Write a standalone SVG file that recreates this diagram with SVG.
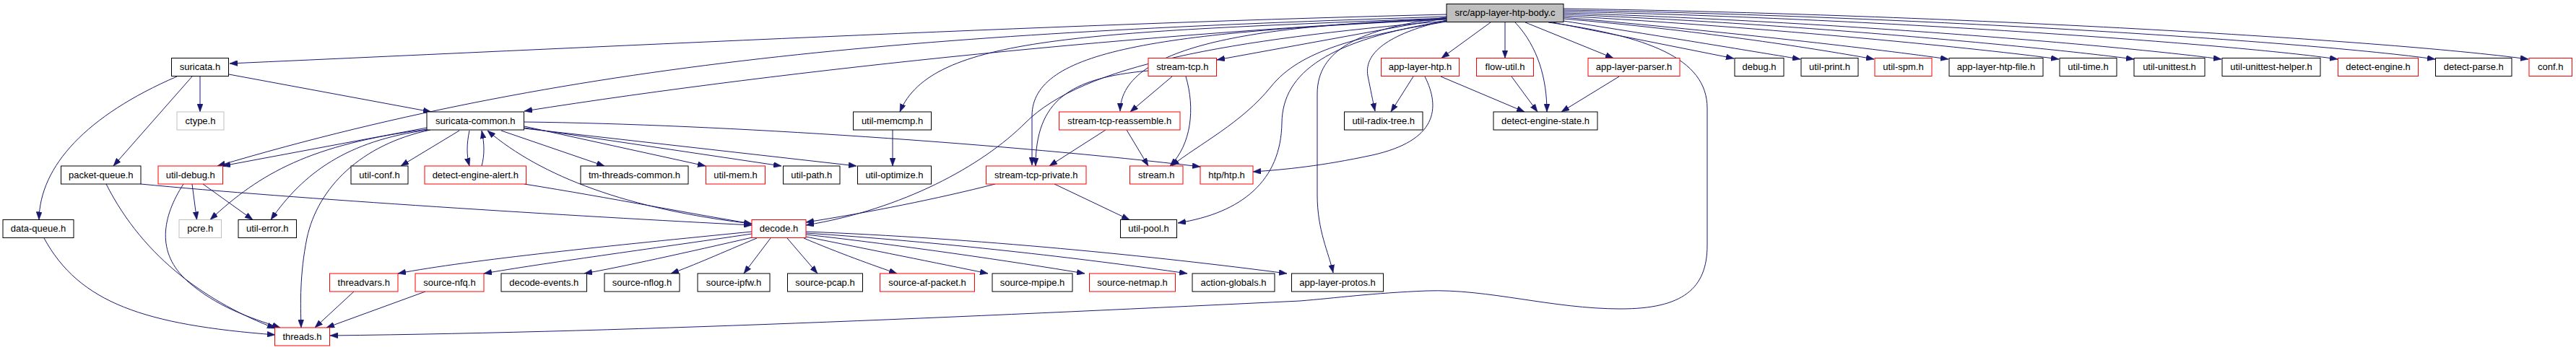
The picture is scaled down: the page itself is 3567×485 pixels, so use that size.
<svg xmlns="http://www.w3.org/2000/svg" width="3567" height="485" viewBox="0 0 3567 485">
<style>
rect{fill:#fff;stroke:#000;stroke-width:1}
.r rect{stroke:#ff0000}
.g rect{stroke:#bfbfbf}
.s rect{fill:#bfbfbf}
text{font-family:"Liberation Sans",Arial,sans-serif;font-size:13px;fill:#000;text-anchor:middle}
#edges path{fill:none;stroke:#191970;stroke-width:1;marker-end:url(#ah)}
</style>
<defs>
<marker id="ah" markerWidth="11" markerHeight="8" refX="11" refY="4" orient="auto" markerUnits="userSpaceOnUse" viewBox="0 0 11 8"><path d="M0,0L11,4L0,8z" fill="#191970" stroke="#191970" stroke-width="0.5"/></marker>
</defs>
<rect x="0" y="0" width="3567" height="485" style="stroke:none"/>
<g id="edges">
<path d="M2003,20 C1500,32 900,62 318,88"/>
<path d="M2003,26 C1600,45 1100,95 726,154"/>
<path d="M2003,23 C1303,45 805,80 301,230"/>
<path d="M2003,25 C1500,45 1290,50 1246,155"/>
<path d="M2003,27 C1600,45 1430,70 1429,160 L1429,229"/>
<path d="M2003,26 C1750,35 1553,60 1551,154"/>
<path d="M2003,25 L1685,83"/>
<path d="M2003,30 C1880,50 1800,70 1760,120 C1720,170 1660,200 1622,230"/>
<path d="M2003,29 C1700,55 1500,90 1420,170 C1360,230 1250,290 1116,312"/>
<path d="M2003,29 C1840,55 1776,100 1775,170 C1774,250 1720,295 1631,309"/>
<path d="M2003,24 C1880,40 1824,70 1824,130 L1824,270 C1824,320 1840,350 1846,378"/>
<path d="M2003,28 C1930,45 1888,70 1894,105 C1898,125 1901,140 1904,154"/>
<path d="M2064,31 L1996,80.5"/>
<path d="M2084,31 L2084,80.5"/>
<path d="M2098,31 C2130,65 2142,110 2142,155"/>
<path d="M2112,31 L2234,80.5"/>
<path d="M2144,31 C2280,50 2364,80 2364,150 L2364,340 C2364,400 2330,428 2244,428 C2150,428 2060,400 1976,403 C1900,406 1850,413 1800,417 C1400,436 900,460 457,465"/>
<path d="M2150,31 L2401,81"/>
<path d="M2165,29 C2300,50 2420,70 2493,82"/>
<path d="M2165,26 C2350,42 2500,65 2595,82"/>
<path d="M2165,24 C2400,45 2600,68 2698,82"/>
<path d="M2165,22 C2450,38 2750,68 2851,82"/>
<path d="M2165,20 C2500,33 2850,68 2955,82"/>
<path d="M2165,18 C2550,30 2950,65 3076,82"/>
<path d="M2165,16 C2600,25 3100,62 3237,82"/>
<path d="M2165,14 C2650,22 3200,58 3372,82"/>
<path d="M2165,12 C2700,20 3300,55 3501,82"/>
<path d="M1957,106 L1926,155"/>
<path d="M1995,106 L2111,155"/>
<path d="M1973,106 C1995,150 1990,195 1900,215 C1830,230 1780,235 1735,238"/>
<path d="M2093,106 L2129,155"/>
<path d="M2242,106 L2162,155"/>
<path d="M277,106 L277,155"/>
<path d="M266,106 L157,230"/>
<path d="M245,106 C120,160 55,230 54,304.5"/>
<path d="M317,103 L597,155"/>
<path d="M147,255 C200,360 290,420 381,455"/>
<path d="M195,255 C400,275 800,300 1041,312"/>
<path d="M61,330 C110,420 200,450 381,464"/>
<path d="M266,255 L272.5,304.5"/>
<path d="M281,255 L350,304.5"/>
<path d="M254,255 C225,300 215,350 260,390 C300,425 345,440 388,454"/>
<path d="M591,177 L308,230"/>
<path d="M592,179 C430,200 360,240 291,304.5"/>
<path d="M593,180 C480,195 420,240 375,304.5"/>
<path d="M596,180 C500,200 440,260 425,330 C415,380 416,420 417,454"/>
<path d="M636,181 L555,230"/>
<path d="M650,181 C646,200 646,215 650,230"/>
<path d="M667,230 C671,215 671,200 667,181"/>
<path d="M1041,310 C870,290 750,245 675,181"/>
<path d="M694,181 L837,230"/>
<path d="M726,175 L977,230"/>
<path d="M726,177 L1082,230"/>
<path d="M726,178 L1186,230"/>
<path d="M726,169 C1000,172 1400,200 1662,231"/>
<path d="M726,255 C850,275 950,295 1041,310"/>
<path d="M1236,180 L1236,230"/>
<path d="M1623,106 L1565,155"/>
<path d="M1590,98 C1480,108 1434,140 1434,230"/>
<path d="M1642,106 C1655,150 1650,200 1620,230"/>
<path d="M1531,180 L1453,230"/>
<path d="M1560,180 L1590,230"/>
<path d="M1378,255 C1300,275 1200,295 1116,308"/>
<path d="M1460,255 L1564,304.5"/>
<path d="M1041,321 C850,340 650,360 551,379"/>
<path d="M1041,324 C900,345 750,365 670,379"/>
<path d="M1046,328 C950,350 860,370 809,379"/>
<path d="M1048,330 C1000,350 960,368 929,379"/>
<path d="M1067,330 L1030,379"/>
<path d="M1090,330 L1132,379"/>
<path d="M1113,330 C1160,350 1210,368 1242,379"/>
<path d="M1116,328 C1200,345 1300,365 1368,379"/>
<path d="M1116,325 C1250,340 1400,362 1502,379"/>
<path d="M1116,323 C1300,335 1500,358 1644,379"/>
<path d="M1116,321 C1350,330 1600,355 1782,379"/>
<path d="M490,404 L436,454"/>
<path d="M589,404 L452,454"/>
</g>
<g id="n_src" class="s"><rect x="2003" y="5.5" width="162" height="25"/><text x="2084" y="22">src/app-layer-htp-body.c</text></g>
<g id="n_suricata"><rect x="237.5" y="80.5" width="79" height="25"/><text x="277" y="97">suricata.h</text></g>
<g id="n_stream_tcp" class="r"><rect x="1590" y="80.5" width="94.5" height="25"/><text x="1637.25" y="97">stream-tcp.h</text></g>
<g id="n_app_layer_htp" class="r"><rect x="1912.5" y="80.5" width="108" height="25"/><text x="1966.5" y="97">app-layer-htp.h</text></g>
<g id="n_flow_util" class="r"><rect x="2044.5" y="80.5" width="79" height="25"/><text x="2084" y="97">flow-util.h</text></g>
<g id="n_app_layer_parser" class="r"><rect x="2199" y="80.5" width="127" height="25"/><text x="2262.5" y="97">app-layer-parser.h</text></g>
<g id="n_debug"><rect x="2402" y="80.5" width="68" height="25"/><text x="2436" y="97">debug.h</text></g>
<g id="n_util_print"><rect x="2494" y="80.5" width="79" height="25"/><text x="2533.5" y="97">util-print.h</text></g>
<g id="n_util_spm" class="r"><rect x="2596" y="80.5" width="79" height="25"/><text x="2635.5" y="97">util-spm.h</text></g>
<g id="n_app_layer_htp_file"><rect x="2699" y="80.5" width="130" height="25"/><text x="2764" y="97">app-layer-htp-file.h</text></g>
<g id="n_util_time"><rect x="2852" y="80.5" width="79" height="25"/><text x="2891.5" y="97">util-time.h</text></g>
<g id="n_util_unittest"><rect x="2955" y="80.5" width="98" height="25"/><text x="3004" y="97">util-unittest.h</text></g>
<g id="n_util_unittest_helper"><rect x="3077" y="80.5" width="136" height="25"/><text x="3145" y="97">util-unittest-helper.h</text></g>
<g id="n_detect_engine" class="r"><rect x="3237.5" y="80.5" width="111" height="25"/><text x="3293" y="97">detect-engine.h</text></g>
<g id="n_detect_parse"><rect x="3372.5" y="80.5" width="105.5" height="25"/><text x="3425.25" y="97">detect-parse.h</text></g>
<g id="n_conf" class="r"><rect x="3502" y="80.5" width="59.5" height="25"/><text x="3531.75" y="97">conf.h</text></g>
<g id="n_ctype" class="g"><rect x="245" y="155" width="65" height="25"/><text x="277.5" y="171.5">ctype.h</text></g>
<g id="n_suricata_common"><rect x="591" y="155" width="134.5" height="25"/><text x="658.25" y="171.5">suricata-common.h</text></g>
<g id="n_util_memcmp"><rect x="1181.5" y="155" width="108" height="25"/><text x="1235.5" y="171.5">util-memcmp.h</text></g>
<g id="n_stream_tcp_reassemble" class="r"><rect x="1466.5" y="155" width="167.5" height="25"/><text x="1550.25" y="171.5">stream-tcp-reassemble.h</text></g>
<g id="n_util_radix_tree"><rect x="1861.5" y="155" width="108.5" height="25"/><text x="1915.75" y="171.5">util-radix-tree.h</text></g>
<g id="n_detect_engine_state"><rect x="2068" y="155" width="144" height="25"/><text x="2140" y="171.5">detect-engine-state.h</text></g>
<g id="n_packet_queue"><rect x="84.5" y="230" width="110.5" height="25"/><text x="139.75" y="246.5">packet-queue.h</text></g>
<g id="n_util_debug" class="r"><rect x="219" y="230" width="89.5" height="25"/><text x="263.75" y="246.5">util-debug.h</text></g>
<g id="n_util_conf"><rect x="486" y="230" width="79" height="25"/><text x="525.5" y="246.5">util-conf.h</text></g>
<g id="n_detect_engine_alert" class="r"><rect x="588" y="230" width="140.5" height="25"/><text x="658.25" y="246.5">detect-engine-alert.h</text></g>
<g id="n_tm_threads_common"><rect x="804" y="230" width="149" height="25"/><text x="878.5" y="246.5">tm-threads-common.h</text></g>
<g id="n_util_mem" class="r"><rect x="977.5" y="230" width="82" height="25"/><text x="1018.5" y="246.5">util-mem.h</text></g>
<g id="n_util_path"><rect x="1084.5" y="230" width="78.5" height="25"/><text x="1123.75" y="246.5">util-path.h</text></g>
<g id="n_util_optimize"><rect x="1187.5" y="230" width="102" height="25"/><text x="1238.5" y="246.5">util-optimize.h</text></g>
<g id="n_stream_tcp_private" class="r"><rect x="1365.5" y="230" width="138.5" height="25"/><text x="1434.75" y="246.5">stream-tcp-private.h</text></g>
<g id="n_stream" class="r"><rect x="1564.5" y="230" width="73.5" height="25"/><text x="1601.25" y="246.5">stream.h</text></g>
<g id="n_htp" class="r"><rect x="1662" y="230" width="73" height="25"/><text x="1698.5" y="246.5">htp/htp.h</text></g>
<g id="n_data_queue"><rect x="4" y="304.5" width="98" height="25"/><text x="53" y="321">data-queue.h</text></g>
<g id="n_pcre" class="g"><rect x="248" y="304.5" width="58.5" height="25"/><text x="277.25" y="321">pcre.h</text></g>
<g id="n_util_error"><rect x="330" y="304.5" width="80.5" height="25"/><text x="370.25" y="321">util-error.h</text></g>
<g id="n_decode" class="r"><rect x="1041" y="304.5" width="75" height="25"/><text x="1078.5" y="321">decode.h</text></g>
<g id="n_util_pool"><rect x="1551.5" y="304.5" width="78" height="25"/><text x="1590.5" y="321">util-pool.h</text></g>
<g id="n_threadvars" class="r"><rect x="456.5" y="379" width="94.5" height="25"/><text x="503.75" y="395.5">threadvars.h</text></g>
<g id="n_source_nfq" class="r"><rect x="575" y="379" width="95" height="25"/><text x="622.5" y="395.5">source-nfq.h</text></g>
<g id="n_decode_events"><rect x="694" y="379" width="118.5" height="25"/><text x="753.25" y="395.5">decode-events.h</text></g>
<g id="n_source_nflog"><rect x="837" y="379" width="104" height="25"/><text x="889" y="395.5">source-nflog.h</text></g>
<g id="n_source_ipfw"><rect x="966" y="379" width="100" height="25"/><text x="1016" y="395.5">source-ipfw.h</text></g>
<g id="n_source_pcap"><rect x="1090.5" y="379" width="104" height="25"/><text x="1142.5" y="395.5">source-pcap.h</text></g>
<g id="n_source_af_packet" class="r"><rect x="1218.5" y="379" width="131" height="25"/><text x="1284" y="395.5">source-af-packet.h</text></g>
<g id="n_source_mpipe"><rect x="1374" y="379" width="111" height="25"/><text x="1429.5" y="395.5">source-mpipe.h</text></g>
<g id="n_source_netmap" class="r"><rect x="1508.5" y="379" width="119" height="25"/><text x="1568" y="395.5">source-netmap.h</text></g>
<g id="n_action_globals"><rect x="1651" y="379" width="114" height="25"/><text x="1708" y="395.5">action-globals.h</text></g>
<g id="n_app_layer_protos"><rect x="1788.5" y="379" width="127" height="25"/><text x="1852" y="395.5">app-layer-protos.h</text></g>
<g id="n_threads" class="r"><rect x="380.5" y="454" width="76" height="25"/><text x="418.5" y="470.5">threads.h</text></g>
</svg>
